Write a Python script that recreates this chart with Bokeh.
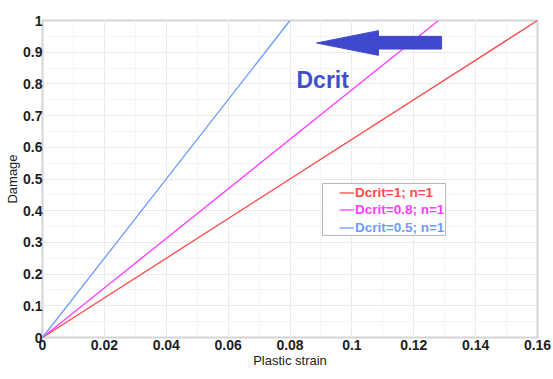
from bokeh.plotting import figure
from bokeh.embed import file_html
from bokeh.resources import INLINE
from bokeh.models import (Range1d, FixedTicker, BoxAnnotation, PolyAnnotation,
                          Label, Legend, LegendItem)

# ---- data ----
series_labels = ["Dcrit=1; n=1", "Dcrit=0.8; n=1", "Dcrit=0.5; n=1"]
strain_red = [0.0, 0.16]
strain_magenta = [0.0, 0.128]
strain_blue = [0.0, 0.08]
damage = [0.0, 1.0]
x_ticks = [0, 0.02, 0.04, 0.06, 0.08, 0.1, 0.12, 0.14, 0.16]
x_tick_labels = ["0", "0.02", "0.04", "0.06", "0.08", "0.1", "0.12", "0.14", "0.16"]
y_ticks = [0, 0.1, 0.2, 0.3, 0.4, 0.5, 0.6, 0.7, 0.8, 0.9, 1.0]
y_tick_labels = ["0", "0.1", "0.2", "0.3", "0.4", "0.5", "0.6", "0.7", "0.8", "0.9", "1"]
x_title = "Plastic strain"
y_title = "Damage"
annotation_text = "Dcrit"

colors = ["#ff4a4a", "#ff3cff", "#6d9bff"]
FONT = "Liberation Sans"

p = figure(width=553, height=379, output_backend="svg", toolbar_location=None,
           x_range=Range1d(0, 0.16), y_range=Range1d(0, 1),
           min_border_left=42, min_border_top=20, min_border_right=16,
           min_border_bottom=42)
p.background_fill_color = "white"
p.border_fill_color = "white"
p.outline_line_color = "#d4d4d4"
p.outline_line_width = 2

p.xaxis.ticker = FixedTicker(ticks=x_ticks, minor_ticks=[i * 0.01 for i in range(17)])
p.yaxis.ticker = FixedTicker(ticks=y_ticks, minor_ticks=[i * 0.05 for i in range(21)])
p.xaxis.major_label_overrides = {t: l for t, l in zip(x_ticks, x_tick_labels)}
p.yaxis.major_label_overrides = {t: l for t, l in zip(y_ticks, y_tick_labels)}

for ax in (p.xaxis, p.yaxis):
    ax.axis_line_color = None
    ax.major_tick_line_color = None
    ax.minor_tick_line_color = None
    ax.major_tick_out = 0
    ax.major_tick_in = 0
    ax.minor_tick_out = 0
    ax.minor_tick_in = 0
    ax.major_label_text_font = FONT
    ax.major_label_text_font_style = "bold"
    ax.major_label_text_font_size = "14px"
    ax.major_label_text_color = "#1e1e1e"
    ax.axis_label_text_font = FONT
    ax.axis_label_text_font_style = "normal"
    ax.axis_label_text_font_size = "13px"
    ax.axis_label_text_color = "#222222"
    ax.axis_label_standoff = 0
p.xaxis.major_label_standoff = 2
p.yaxis.major_label_standoff = 0
p.xaxis.axis_label = x_title
p.yaxis.axis_label = y_title

p.grid.grid_line_color = "#ebebeb"
p.grid.minor_grid_line_color = "#f5f5f5"

r_red = p.line(strain_red, damage, line_color=colors[0], line_width=1.3)
r_mag = p.line(strain_magenta, damage, line_color=colors[1], line_width=1.3)
r_blue = p.line(strain_blue, damage, line_color=colors[2], line_width=1.3)

# arrow (annotation geometry, data units)
arrow_xs = [0.0886, 0.1086, 0.1086, 0.1290, 0.1290, 0.1086, 0.1086]
arrow_ys = [0.929, 0.968, 0.950, 0.950, 0.910, 0.910, 0.890]
p.add_layout(PolyAnnotation(xs=arrow_xs, ys=arrow_ys, fill_color="#3f48cc",
                            fill_alpha=1, line_color="#3f48cc", line_alpha=1))
p.add_layout(Label(x=0.0821, y=0.811, text=annotation_text, text_font=FONT,
                   text_font_style="bold", text_font_size="23px",
                   text_color="#3f4fcc", text_baseline="alphabetic"))

# legend frame
p.add_layout(BoxAnnotation(left=0.0905, right=0.1303, top=0.486, bottom=0.322,
                           fill_color="white", fill_alpha=1,
                           line_color="#b4b4b4", line_width=1, line_alpha=1))

rows = [136.5, 119, 101.5]
for lab, r, c, yb in zip(series_labels, [r_red, r_mag, r_blue], colors, rows):
    leg = Legend(items=[LegendItem(label=lab, renderers=[r])], location=(297, yb),
                 padding=0, margin=0, spacing=0, glyph_width=15, glyph_height=17,
                 label_height=17, label_standoff=1, border_line_color=None,
                 background_fill_alpha=0, label_text_color=c,
                 label_text_font=FONT, label_text_font_style="bold",
                 label_text_font_size="13.5px")
    p.add_layout(leg)

open("out.html", "w").write(file_html(p, INLINE))
